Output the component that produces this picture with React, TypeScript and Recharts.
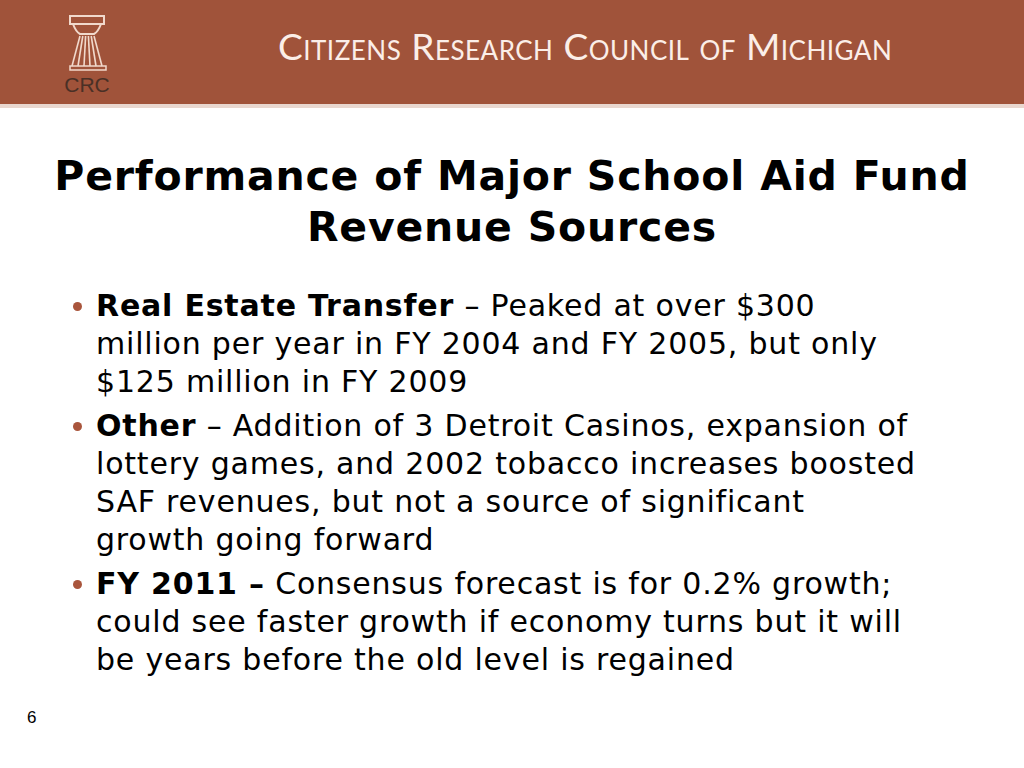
import React from 'react'
import { Surface, Rectangle } from 'recharts'

const headerText = 'Citizens Research Council of Michigan'
const titleLines = ['Performance of Major School Aid Fund', 'Revenue Sources']
const bullets = [
  {
    lead: 'Real Estate Transfer',
    sep: ' – ',
    lines: [
      'Peaked at over $300',
      'million per year in FY 2004 and FY 2005, but only',
      '$125 million in FY 2009',
    ],
  },
  {
    lead: 'Other',
    sep: ' – ',
    lines: [
      'Addition of 3 Detroit Casinos, expansion of',
      'lottery games, and 2002 tobacco increases boosted',
      'SAF revenues, but not a source of significant',
      'growth going forward',
    ],
  },
  {
    lead: 'FY 2011 –',
    sep: ' ',
    lines: [
      'Consensus forecast is for 0.2% growth;',
      'could see faster growth if economy turns but it will',
      'be years before the old level is regained',
    ],
  },
]
const pageNumber = '6'

// column flutes of the logo
const flutes = [0, 1, 2, 3, 4, 5]

function Logo() {
  const line = '#f1d9cc'
  return (
    <Surface width={60} height={90} viewBox={{ x: 0, y: 0, width: 60, height: 90 }}>
      <Rectangle x={6} y={4} width={34} height={8} fill="none" stroke={line} strokeWidth={2} />
      <path d="M9 12 Q12 20 16 22 L30 22 Q34 20 37 12" fill="none" stroke={line} strokeWidth={2} />
      {flutes.map((i) => (
        <line
          key={i}
          x1={16 + i * 2.8}
          y1={24}
          x2={8 + i * 6}
          y2={54}
          stroke={line}
          strokeWidth={1.6}
        />
      ))}
      <Rectangle x={6} y={54} width={36} height={4} fill="none" stroke={line} strokeWidth={1.5} />
      <text x={23} y={80} textAnchor="middle" fontFamily="Liberation Sans" fontSize={21} fill="#4a3026">
        CRC
      </text>
    </Surface>
  )
}

export default function App() {
  return (
    <div
      style={{
        position: 'absolute',
        left: 0,
        top: 0,
        width: 1024,
        height: 768,
        background: '#fff',
        overflow: 'hidden',
        fontFamily: 'Verdana, "DejaVu Sans", sans-serif',
      }}
    >
      <div style={{ position: 'absolute', left: 0, top: 0, width: 1024, height: 106, background: '#a0533a' }}>
        <div style={{ position: 'absolute', left: 64, top: 12 }}>
          <Logo />
        </div>
        <div
          style={{
            position: 'absolute',
            left: 278,
            top: 23,
            color: '#fbeee8',
            fontFamily: 'Lato, sans-serif',
            fontVariant: 'small-caps',
            fontSize: 37,
            letterSpacing: 0.5,
            whiteSpace: 'nowrap',
          }}
        >
          {headerText}
        </div>
      </div>
      <div style={{ position: 'absolute', left: 0, top: 104, width: 1024, height: 4, background: '#e9d7cf' }} />

      <div
        style={{
          position: 'absolute',
          left: 0,
          top: 151,
          width: 1024,
          textAlign: 'center',
          fontWeight: 'bold',
          fontSize: 41,
          letterSpacing: 0.8,
          lineHeight: '51px',
          color: '#000',
        }}
      >
        {titleLines.map((t) => (
          <div key={t}>{t}</div>
        ))}
      </div>

      <div
        style={{
          position: 'absolute',
          left: 70,
          top: 287,
          fontSize: 30,
          letterSpacing: 0.8,
          lineHeight: '38px',
          color: '#000',
        }}
      >
        {bullets.map((b, i) => (
          <div key={i} style={{ position: 'relative', paddingLeft: 26, marginBottom: 6 }}>
            <span
              style={{
                position: 'absolute',
                left: 3,
                top: 15,
                width: 9,
                height: 9,
                borderRadius: '50%',
                background: '#a9553c',
              }}
            />
            {b.lines.map((l, j) => (
              <div key={j} style={{ whiteSpace: 'nowrap' }}>
                {j === 0 && (
                  <>
                    <b>{b.lead}</b>
                    {b.sep}
                  </>
                )}
                {l}
              </div>
            ))}
          </div>
        ))}
      </div>

      <div style={{ position: 'absolute', left: 27, top: 708, fontFamily: 'Liberation Sans, Arial', fontSize: 17 }}>
        {pageNumber}
      </div>
    </div>
  )
}
